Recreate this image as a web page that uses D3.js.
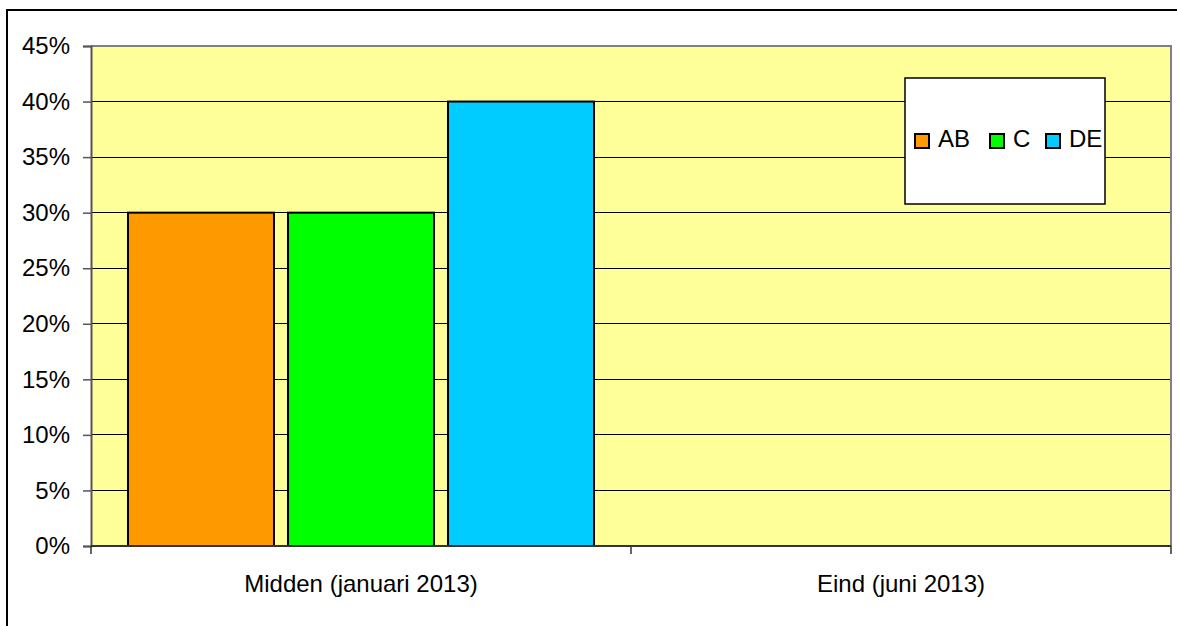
<!DOCTYPE html>
<html>
<head>
<meta charset="utf-8">
<script src="https://cdn.jsdelivr.net/npm/d3@7"></script>
<style>
  body { margin: 0; background: #fff; }
  svg { display: block; font-family: "Liberation Sans", Arial, sans-serif; }
</style>
</head>
<body>
<script>
// data
const categories = ["Midden (januari 2013)", "Eind (juni 2013)"];
const seriesNames = ["AB", "C", "DE"];
const seriesColors = ["#FF9900", "#00FF00", "#00CCFF"];
const valuesAB = [0.30, null];
const valuesC = [0.30, null];
const valuesDE = [0.40, null];
const yTicks = [0, 0.05, 0.10, 0.15, 0.20, 0.25, 0.30, 0.35, 0.40, 0.45];

const drawChart = () => {
  const width = 1177;
  const height = 626;
  const plot = {left: 91, right: 1171, top: 46, bottom: 546};

  const series = [valuesAB, valuesC, valuesDE];

  const svg = d3.select("body")
    .append("svg")
    .attr("width", width)
    .attr("height", height);

  // outer chart frame (only left and top are in view)
  svg.append("rect")
    .attr("x", 7).attr("y", 10)
    .attr("width", 1400).attr("height", 900)
    .attr("fill", "#fff")
    .attr("stroke", "#000")
    .attr("stroke-width", 2);

  // scales
  const xScale = d3.scaleBand()
    .domain(categories)
    .range([plot.left, plot.right])
    .padding(0);

  const innerScale = d3.scaleBand()
    .domain(seriesNames)
    .range([37, xScale.bandwidth() - 37])
    .paddingInner(0.0875);

  const yScale = d3.scaleLinear()
    .domain([0, 0.45])
    .range([plot.bottom, plot.top]);

  // plot background
  svg.append("rect")
    .attr("x", plot.left).attr("y", plot.top)
    .attr("width", plot.right - plot.left)
    .attr("height", plot.bottom - plot.top)
    .attr("fill", "#FFFF99");

  // gridlines
  svg.append("g")
    .selectAll("line")
    .data(yTicks.filter((d) => d > 0 && d < 0.45))
    .enter()
    .append("line")
    .attr("x1", plot.left).attr("x2", plot.right)
    .attr("y1", (d) => yScale(d)).attr("y2", (d) => yScale(d))
    .attr("stroke", "#000")
    .attr("stroke-width", 1)
    .attr("shape-rendering", "crispEdges");

  // plot border top/right in grey
  svg.append("path")
    .attr("d", `M${plot.left},${plot.top}H${plot.right}V${plot.bottom}`)
    .attr("fill", "none")
    .attr("stroke", "#808080")
    .attr("stroke-width", 2);

  // bars
  const barData = [];
  categories.forEach((c, i) => {
    seriesNames.forEach((s, j) => {
      if (series[j][i] != null) barData.push({cat: c, name: s, value: series[j][i], color: seriesColors[j]});
    });
  });

  svg.append("g")
    .attr("class", "bars")
    .selectAll("rect")
    .data(barData)
    .enter()
    .append("rect")
    .attr("x", (d) => xScale(d.cat) + innerScale(d.name))
    .attr("y", (d) => yScale(d.value))
    .attr("width", innerScale.bandwidth())
    .attr("height", (d) => yScale(0) - yScale(d.value))
    .attr("fill", (d) => d.color)
    .attr("stroke", "#000")
    .attr("stroke-width", 2);

  // y axis
  const yAxis = svg.append("g")
    .attr("transform", `translate(${plot.left},0)`)
    .call(d3.axisLeft(yScale)
      .tickValues(yTicks)
      .tickSize(8)
      .tickPadding(13)
      .tickFormat((d) => Math.round(d * 100) + "%"));
  yAxis.select(".domain").attr("stroke", "#555").attr("stroke-width", 2);
  yAxis.selectAll(".tick line").attr("stroke", "#555").attr("stroke-width", 1.5);
  yAxis.selectAll("text")
    .attr("font-size", 24)
    .attr("fill", "#000")
    .attr("font-family", "Liberation Sans, Arial, sans-serif");

  // x axis
  const xAxis = svg.append("g")
    .attr("transform", `translate(0,${plot.bottom})`);
  xAxis.append("line")
    .attr("x1", plot.left).attr("x2", plot.right)
    .attr("y1", 0).attr("y2", 0)
    .attr("stroke", "#333").attr("stroke-width", 2);
  const boundaries = categories.map((c) => xScale(c)).concat([xScale(categories[categories.length - 1]) + xScale.bandwidth()]);
  xAxis.selectAll("line.tick")
    .data(boundaries)
    .enter()
    .append("line")
    .attr("class", "tick")
    .attr("x1", (d) => d).attr("x2", (d) => d)
    .attr("y1", 0).attr("y2", 8)
    .attr("stroke", "#333").attr("stroke-width", 1.5);
  xAxis.selectAll("text")
    .data(categories)
    .enter()
    .append("text")
    .attr("x", (d) => xScale(d) + xScale.bandwidth() / 2)
    .attr("y", 46)
    .attr("text-anchor", "middle")
    .attr("font-size", 24)
    .attr("fill", "#000")
    .text((d) => d);

  // legend
  const legend = svg.append("g").attr("class", "legend");
  legend.append("rect")
    .attr("x", 905).attr("y", 78)
    .attr("width", 200).attr("height", 126)
    .attr("fill", "#fff")
    .attr("stroke", "#000")
    .attr("stroke-width", 1.5);
  const legendX = [915, 990, 1046];
  const items = legend.selectAll("g.item")
    .data(seriesNames)
    .enter()
    .append("g")
    .attr("class", "item")
    .attr("transform", (d, i) => `translate(${legendX[i]},134)`);
  items.append("rect")
    .attr("width", 14).attr("height", 14)
    .attr("fill", (d, i) => seriesColors[i])
    .attr("stroke", "#000")
    .attr("stroke-width", 2);
  items.append("text")
    .attr("x", 23)
    .attr("y", 13)
    .attr("font-size", 24)
    .attr("fill", "#000")
    .text((d) => d);
};

drawChart();
</script>
</body>
</html>
